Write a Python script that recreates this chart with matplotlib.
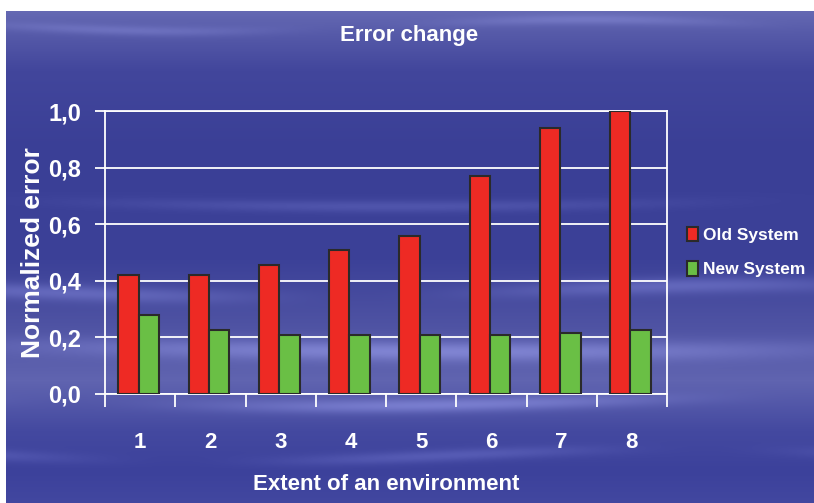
import numpy as np
import matplotlib
matplotlib.use("Agg")
import matplotlib.pyplot as plt
from matplotlib.patches import Patch

categories = ["1", "2", "3", "4", "5", "6", "7", "8"]
old_system = [0.42, 0.42, 0.455, 0.51, 0.56, 0.77, 0.94, 1.0]
new_system = [0.28, 0.225, 0.21, 0.21, 0.21, 0.21, 0.215, 0.225]
yticks = [0.0, 0.2, 0.4, 0.6, 0.8, 1.0]
ytick_labels = ["0,0", "0,2", "0,4", "0,6", "0,8", "1,0"]

plt.rcParams['font.family'] = ['Liberation Sans', 'DejaVu Sans']

W, H = 814, 503
fig = plt.figure(figsize=(W / 100, H / 100), dpi=100)
fig.patch.set_facecolor("white")

# sky-like background: vertical gradient plus a few soft light streaks
yy, xx = np.mgrid[0:H, 0:W].astype(float)
stops_y = [0, 30, 70, 150, 260, 330, 380, 430, 470, 503]
stops_c = np.array([
    [108, 112, 184], [88, 92, 170], [66, 70, 156], [58, 63, 150],
    [60, 65, 152], [80, 84, 164], [96, 100, 176], [68, 73, 160],
    [60, 65, 155], [66, 71, 160]]) / 255.0
bg = np.zeros((H, W, 3))
for k in range(3):
    bg[..., k] = np.interp(yy[:, 0], stops_y, stops_c[:, k])[:, None]
streaks = [(200, 6, 0.08, 0.004), (290, 8, 0.12, 0.006), (345, 10, 0.16, 0.003),
           (400, 7, 0.15, 0.005), (455, 6, 0.09, 0.007), (25, 5, 0.08, 0.008)]
for cy, sw, amp, fx in streaks:
    band = np.exp(-((yy - cy - 6 * np.sin(xx * fx)) / sw) ** 2)
    mod = 0.5 + 0.5 * np.sin(xx * fx * 1.7 + cy)
    bg += amp * (band * mod)[..., None]
bg = np.clip(bg, 0, 1)
bg[:11, :, :] = 1.0
bg[:, :6, :] = 1.0

bax = fig.add_axes([0, 0, 1, 1], zorder=0)
bax.imshow(bg, aspect="auto", interpolation="bilinear")
bax.axis("off")

ax = fig.add_axes([105 / W, 1 - 394 / H, (667 - 105) / W, (394 - 111) / H], zorder=1)
ax.patch.set_alpha(0)

x = np.arange(1, len(categories) + 1)
w = 0.29
ax.bar(x - w / 2 - 0.02, old_system, w, color="#ee2a24", edgecolor="#2a2a2a", linewidth=1.5, zorder=3)
ax.bar(x + w / 2 - 0.02, new_system, w, color="#6abf45", edgecolor="#2a2a2a", linewidth=1.5, zorder=3)

ax.set_xlim(0.5, 8.5)
ax.set_ylim(0, 1.0)
ax.set_yticks(yticks)
ax.set_yticklabels(ytick_labels)
ax.set_xticks(x)
ax.set_xticklabels(categories)
ax.set_xticks(np.arange(0.5, 8.6, 1), minor=True)
ax.tick_params(axis="x", which="major", length=0, pad=27, labelsize=16, labelcolor="white")
ax.tick_params(axis="x", which="minor", length=9, width=1.3, color="white", direction="out")
ax.tick_params(axis="y", length=7, width=1.3, color="white", pad=10, labelsize=17, labelcolor="white")
for lab in ax.get_xticklabels() + ax.get_yticklabels():
    lab.set_fontweight("bold")

ax.grid(axis="y", color="white", linewidth=1.3, zorder=1)
for s in ax.spines.values():
    s.set_color("white")
    s.set_linewidth(1.3)

fig.text(33 / W, 1 - 253 / H, "Normalized error", color="white", fontsize=19,
         fontweight="bold", rotation=90, ha="center", va="center")
fig.text(386 / W, 1 - 485 / H, "Extent of an environment", color="white", fontsize=16,
         fontweight="bold", ha="center", va="center")
fig.text(409 / W, 1 - 36 / H, "Error change", color="white", fontsize=16,
         fontweight="bold", ha="center", va="center")

handles = [Patch(facecolor="#ee2a24", edgecolor="#2a2a2a", linewidth=1.5),
           Patch(facecolor="#6abf45", edgecolor="#2a2a2a", linewidth=1.5)]
leg = fig.legend(handles, ["Old System", "New System"], loc="center left",
                 bbox_to_anchor=(687 / W, 1 - 252 / H), frameon=False,
                 prop={"size": 12.5, "weight": "bold"}, handlelength=0.65, handleheight=0.9,
                 handletextpad=0.3, labelspacing=1.05, borderaxespad=0, borderpad=0)
for t in leg.get_texts():
    t.set_color("white")

fig.savefig("out.png", dpi=100)
